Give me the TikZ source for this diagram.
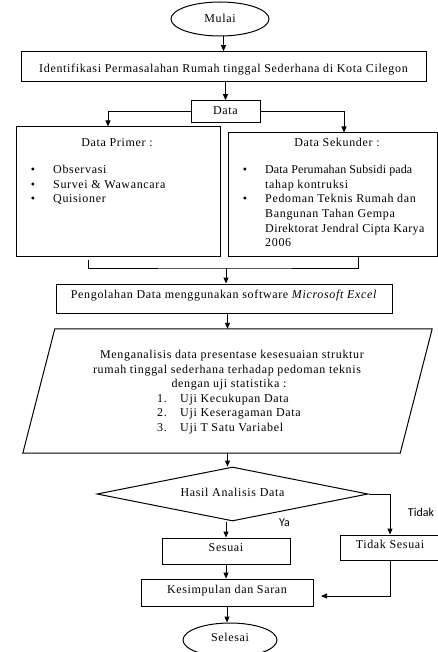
\documentclass[tikz,border=0pt]{standalone}
\usepackage{fontspec}
\setmainfont{Liberation Serif}[LetterSpace=5.5]
\newfontfamily\lblfont{Carlito}
\usetikzlibrary{arrows.meta,shapes.geometric}
\begin{document}
\begin{tikzpicture}[x=1pt,y=-1pt,
  font=\fontsize{12}{14.5}\selectfont,
  ln/.style={line width=1pt},
  arr/.style={ln,-{Triangle[length=6pt,width=5pt]}},
  rbox/.style={draw,ln,rectangle,inner sep=0pt},
  ebox/.style={draw,ln,ellipse,inner sep=0pt},
  txt/.style={inner sep=0pt,anchor=base},
  txtw/.style={inner sep=0pt,anchor=base west},
  lbl/.style={inner sep=0pt,font=\lblfont\fontsize{12}{14}\selectfont}
]
\useasboundingbox (0,0) rectangle (438,652);

% start
\node[ebox,minimum width=98pt,minimum height=34pt,text height=9.7pt,text depth=2.3pt] (mulai) at (220,19) {Mulai};
\node[rbox,minimum width=405pt,minimum height=30pt,text height=12pt,text depth=0pt] (ident) at (223.5,66.7) {Identifikasi Permasalahan Rumah tinggal Sederhana di Kota Cilegon};
\node[rbox,minimum width=69pt,minimum height=22pt,text height=8.5pt,text depth=3.5pt] (data) at (225.5,111.7) {Data};

% data boxes
\node[rbox,minimum width=204pt,minimum height=129pt] (primer) at (118,191.5) {};
\node[rbox,minimum width=209pt,minimum height=123pt] (sekunder) at (333,194.5) {};

\node[txt] (ptitle) at (117,147) {Data Primer :};
\node[txt] (pb1) at (33,174) {\textbullet};
\node[txt] (pb2) at (33,188.5) {\textbullet};
\node[txt] (pb3) at (33,203) {\textbullet};
\node[txtw] (p1) at (53,174) {Observasi};
\node[txtw] (p2) at (53,188.5) {Survei \& Wawancara};
\node[txtw] (p3) at (53,203) {Quisioner};

\node[txt] (stitle) at (337,147) {Data Sekunder :};
\node[txt] (sb1) at (245,174) {\textbullet};
\node[txt] (sb2) at (245,203) {\textbullet};
\node[txtw] (s1) at (265,174) {\addfontfeature{LetterSpace=1}Data Perumahan Subsidi pada};
\node[txtw] (s2) at (265,188.5) {tahap kontruksi};
\node[txtw] (s3) at (265,203) {Pedoman Teknis Rumah dan};
\node[txtw] (s4) at (265,217.5) {Bangunan Tahan Gempa};
\node[txtw] (s5) at (265,232) {\addfontfeature{LetterSpace=3.5}Direktorat Jendral Cipta Karya};
\node[txtw] (s6) at (265,246.5) {2006};

% processing
\node[rbox,minimum width=336pt,minimum height=29pt,text height=6pt,text depth=6pt] (peng) at (224,298.5) {Pengolahan Data menggunakan software \textit{Microsoft Excel}};

% analysis parallelogram
\node[inner sep=0pt,minimum width=377pt,minimum height=124pt] (anal) at (227.5,391) {};
\draw[ln] ([xshift=16pt]anal.north west) -- ([xshift=16pt]anal.north east)
  -- ([xshift=-16pt]anal.south east) -- ([xshift=-16pt]anal.south west) -- cycle;
\node[txt] (a1) at (232,358.5) {Menganalisis data presentase kesesuaian struktur};
\node[txt] (a2) at (227,373) {rumah tinggal sederhana terhadap pedoman teknis};
\node[txt] (a3) at (229,387.5) {dengan uji statistika :};
\node[txtw] (n1) at (157,402) {1.};
\node[txtw] (n2) at (157,416.5) {2.};
\node[txtw] (n3) at (157,431) {3.};
\node[txtw] (l1) at (180,402) {Uji Kecukupan Data};
\node[txtw] (l2) at (180,416.5) {Uji Keseragaman Data};
\node[txtw] (l3) at (180,431) {Uji T Satu Variabel};

% decision
\node[diamond,draw,ln,inner sep=0pt,aspect=5,minimum width=271pt,minimum height=54pt,text height=8pt,text depth=4pt] (diam) at (232.5,494) {Hasil Analisis Data};
\node[rbox,minimum width=128pt,minimum height=26pt,text height=6.7pt,text depth=5.3pt] (ses) at (226,551) {Sesuai};
\node[rbox,minimum width=100pt,minimum height=25pt,text height=7pt,text depth=5pt] (tid) at (390,547.5) {Tidak Sesuai};
\node[rbox,minimum width=172pt,minimum height=27pt,text height=7pt,text depth=5pt] (kes) at (227,592.5) {Kesimpulan dan Saran};
\node[ebox,minimum width=94pt,minimum height=34pt,text height=7.7pt,text depth=4.3pt] (sel) at (230,640) {Selesai};

\node[lbl] (ya) at (284.5,523) {Ya};
\node[lbl] (tidak) at (421,512) {Tidak};

% connectors
\draw[arr] (ident.north |- mulai.south) -- (ident.north);
\draw[arr] (ident.south -| data.north) -- (data.north);
\draw[arr] (data.west) -| ([xshift=-10pt]primer.north);
\draw[arr] (data.east) -| ([xshift=11pt]sekunder.north);

\coordinate (jl) at (88,260);
\coordinate (jr) at (358,256);
\coordinate (jm) at (226,268);
\draw[ln] (jl) |- (jm) -| (jr);
\draw[arr] (jm) -- (jm |- peng.north);

\draw[arr] (anal.north |- peng.south) -- (anal.north);
\draw[arr] (anal.south) -- (anal.south |- diam.north);
\draw[arr] (ses.north |- diam.south) -- (ses.north);
\draw[arr] (diam.east) -| (tid.north);
\draw[arr] (ses.south) -- (ses.south |- kes.north);
\coordinate (kin) at (321,596);
\draw[arr] (tid.south) |- (kin);
\draw[arr] (kes.south) -- (kes.south |- sel.north);
\end{tikzpicture}
\end{document}
